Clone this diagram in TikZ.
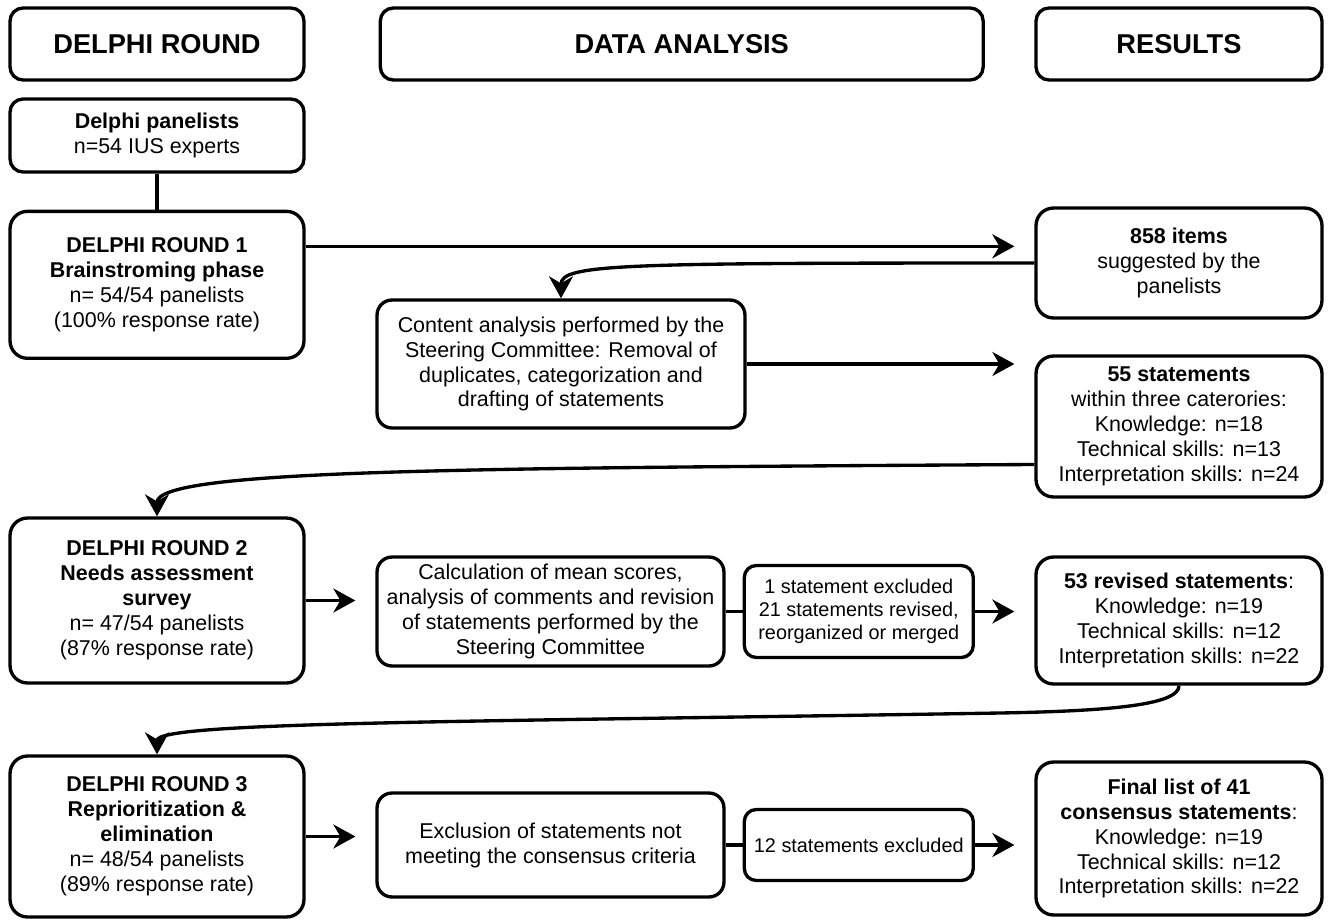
\documentclass[tikz,border=0pt]{standalone}
\usepackage{fontspec}
\setmainfont{Liberation Sans}
\usepackage{tikz}
\usetikzlibrary{positioning}
\usetikzlibrary{arrows.meta}

\newcommand{\bodyfont}{\fontsize{12.2pt}{14.2pt}\selectfont}
\newcommand{\smallbodyfont}{\fontsize{11.3pt}{13.2pt}\selectfont}
\newcommand{\headfont}{\fontsize{15.5pt}{18pt}\selectfont\bfseries}

\begin{document}
\begin{tikzpicture}[
                x = 0.02cm,
                y = -0.02cm,
                box/.style = {
                    draw,
                    line width = 1.9pt,
                    rounded corners = #1,
                    align = center,
                    inner sep = 2pt,
                    font = \bodyfont
                },
                box/.default = 3.5mm,
                head/.style = {
                    box = 2.6mm,
                    font = \headfont,
                    minimum height = 1.44cm
                },
                arr/.style = {
                    line width = 1.9pt,
                    -{Stealth[length=4.4mm, width=4.8mm, inset=1.4mm]}
                },
                link/.style = {line width = 1.9pt}
            ]
            \useasboundingbox (0,0) rectangle (1330,921);
            % headers
            \node[head, minimum width=5.88cm] (hdround) at (157,44) {DELPHI ROUND};
            \node[head, minimum width=12.06cm, right=1.46cm of hdround] (hdanalysis) {DATA ANALYSIS};
            \node[head, minimum width=5.72cm] (hdresults) at (1179,44) {RESULTS};
            %
            % delphi rounds
            \node[box=2.6mm, minimum width=5.88cm, minimum height=1.46cm] (panel) at (157,135.5)
                {\textbf{Delphi panelists}\\n=54 IUS experts};
            \node[box, minimum width=5.88cm, minimum height=2.94cm, below=0.72cm of panel] (round1)
                {\textbf{DELPHI ROUND 1}\\\textbf{Brainstroming phase}\\n= 54/54 panelists\\(100\% response rate)};
            \node[box, minimum width=5.88cm, minimum height=3.3cm] (round2) at (157,600.5)
                {\textbf{DELPHI ROUND 2}\\\textbf{Needs assessment}\\\textbf{survey}\\n= 47/54 panelists\\(87\% response rate)};
            \node[box, minimum width=5.88cm, minimum height=3.22cm] (round3) at (157,836.5)
                {\textbf{DELPHI ROUND 3}\\\textbf{Reprioritization \&}\\\textbf{elimination}\\n= 48/54 panelists\\(89\% response rate)};
            %
            % data analysis
            \node[box=3mm, minimum width=7.36cm, minimum height=2.56cm] (content) at (561,364)
                {Content analysis performed by the\\Steering Committee: Removal of\\duplicates, categorization and\\drafting of statements};
            \node[box=3mm, minimum width=6.94cm, minimum height=2.18cm] (calc) at (550.5,611.5)
                {Calculation of mean scores,\\analysis of comments and revision\\of statements performed by the\\Steering Committee};
            \node[box=2.4mm, minimum width=4.58cm, minimum height=1.84cm, font=\smallbodyfont, right=0.34cm of calc] (excl1)
                {1 statement excluded\\21 statements revised,\\reorganized or merged};
            \node[box=3mm, minimum width=6.94cm, minimum height=2.08cm] (exclu) at (550.5,845)
                {Exclusion of statements not\\meeting the consensus criteria};
            \node[box=2.4mm, minimum width=4.58cm, minimum height=1.42cm, font=\smallbodyfont, right=0.34cm of exclu] (excl12)
                {12 statements excluded};
            %
            % results
            \node[box, minimum width=5.72cm, minimum height=2.2cm] (items) at (1179,263)
                {\textbf{858 items}\\suggested by the\\panelists};
            \node[box, minimum width=5.72cm, minimum height=2.82cm] (stat55) at (1179,426.5)
                {\textbf{55 statements}\\within three caterories:\\Knowledge: n=18\\Technical skills: n=13\\Interpretation skills: n=24};
            \node[box, minimum width=5.72cm, minimum height=2.54cm] (rev53) at (1179,620.5)
                {\textbf{53 revised statements}:\\Knowledge: n=19\\Technical skills: n=12\\Interpretation skills: n=22};
            \node[box, minimum width=5.72cm, minimum height=3.06cm] (final) at (1179,838.5)
                {\textbf{Final list of 41}\\\textbf{consensus statements}:\\Knowledge: n=19\\Technical skills: n=12\\Interpretation skills: n=22};
            %
            \coordinate (r1out) at ([yshift=7.7mm]round1.east);
            \coordinate (s55out) at ([yshift=-7.6mm]stat55.west);
            %
            \draw[link] (panel) -- (round1);
            \draw[arr, shorten >=4mm] (r1out) -- (r1out -| items.west);
            \draw[arr] (items.west) .. controls (620,263) and (561,264) .. (content.north);
            \draw[arr, shorten >=4mm] (content.east) -- (content.east -| stat55.west);
            \draw[arr] (s55out) .. controls (450,468) and (157,470) .. (round2.north);
            % 
            \draw[arr, shorten >=4mm] (round2.east) -- (round2.east -| calc.west);
            \draw[link] (calc.east) -- (calc.east -| excl1.west);
            \draw[arr, shorten >=4mm] (excl1.east) -- (excl1.east -| rev53.west);
            \draw[arr] (rev53.south) .. controls (1179,705) and (1110,711) .. (1000,713)
                .. controls (450,722) and (157,722) .. (round3.north);
            % 
            \draw[arr, shorten >=4mm] (round3.east) -- (round3.east -| exclu.west);
            \draw[link] (exclu.east) -- (exclu.east -| excl12.west);
            \draw[arr, shorten >=4mm] (excl12.east) -- (excl12.east -| final.west);
            %
        \end{tikzpicture}
\end{document}
